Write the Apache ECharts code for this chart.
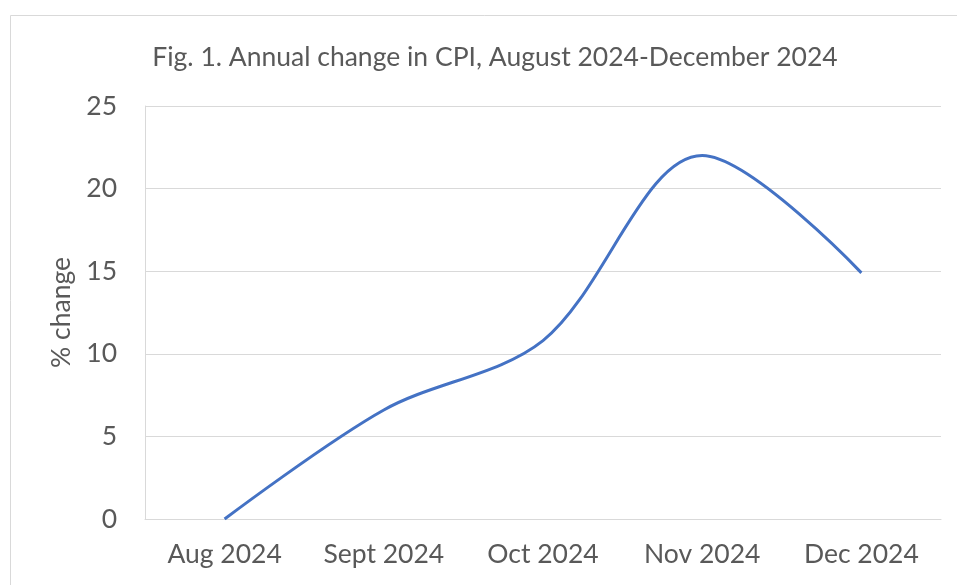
<!DOCTYPE html>
<html>
<head>
<meta charset="utf-8">
<script src="https://cdn.jsdelivr.net/npm/echarts@6/dist/echarts.min.js"></script>
<style>
  html, body { margin: 0; padding: 0; background: #fff; }
  #chart { width: 957px; height: 585px; }
</style>
</head>
<body>
<div id="chart"></div>
<script>
// 数据
var months = ['Aug 2024', 'Sept 2024', 'Oct 2024', 'Nov 2024', 'Dec 2024'];
var cpiChange = [0, 6.6, 10.8, 22.0, 14.9];
var yTicks = [0, 5, 10, 15, 20, 25];

var myChart = echarts.init(document.getElementById('chart'));
var fontName = 'Lato';

var option = {
  animation: false,
  title: {
    text: 'Fig. 1. Annual change in CPI, August 2024-December 2024',
    left: 490,
    top: 39,
    textAlign: 'center',
    textStyle: { fontFamily: fontName, fontSize: 26.5, fontWeight: 'normal', color: '#595959' }
  },
  graphic: [{
    type: 'rect',
    shape: { x: 10.5, y: 15.5, width: 1000, height: 1000 },
    style: { fill: 'none', stroke: '#d9d9d9', lineWidth: 1 },
    silent: true
  }],
  grid: { left: 145, right: 16, top: 106, bottom: 66 },
  xAxis: {
    type: 'category',
    data: months,
    boundaryGap: true,
    axisLine: { lineStyle: { color: '#d9d9d9', width: 1 } },
    axisTick: { show: false },
    axisLabel: { fontFamily: fontName, fontSize: 26.5, color: '#595959', margin: 22 }
  },
  yAxis: {
    type: 'value',
    min: yTicks[0],
    max: yTicks[yTicks.length - 1],
    interval: 5,
    name: '% change',
    nameLocation: 'middle',
    nameGap: 66,
    nameTextStyle: { fontFamily: fontName, fontSize: 26.5, color: '#595959' },
    axisLine: { show: true, lineStyle: { color: '#d9d9d9', width: 1 } },
    axisTick: { show: false },
    splitLine: { lineStyle: { color: '#d9d9d9', width: 1 } },
    axisLabel: { fontFamily: fontName, fontSize: 26.5, color: '#595959', margin: 28 }
  },
  series: [{
    type: 'line',
    data: cpiChange,
    smooth: 0.33,
    showSymbol: false,
    lineStyle: { color: '#4472C4', width: 3 },
    itemStyle: { color: '#4472C4' }
  }]
};

myChart.setOption(option);
</script>
</body>
</html>
